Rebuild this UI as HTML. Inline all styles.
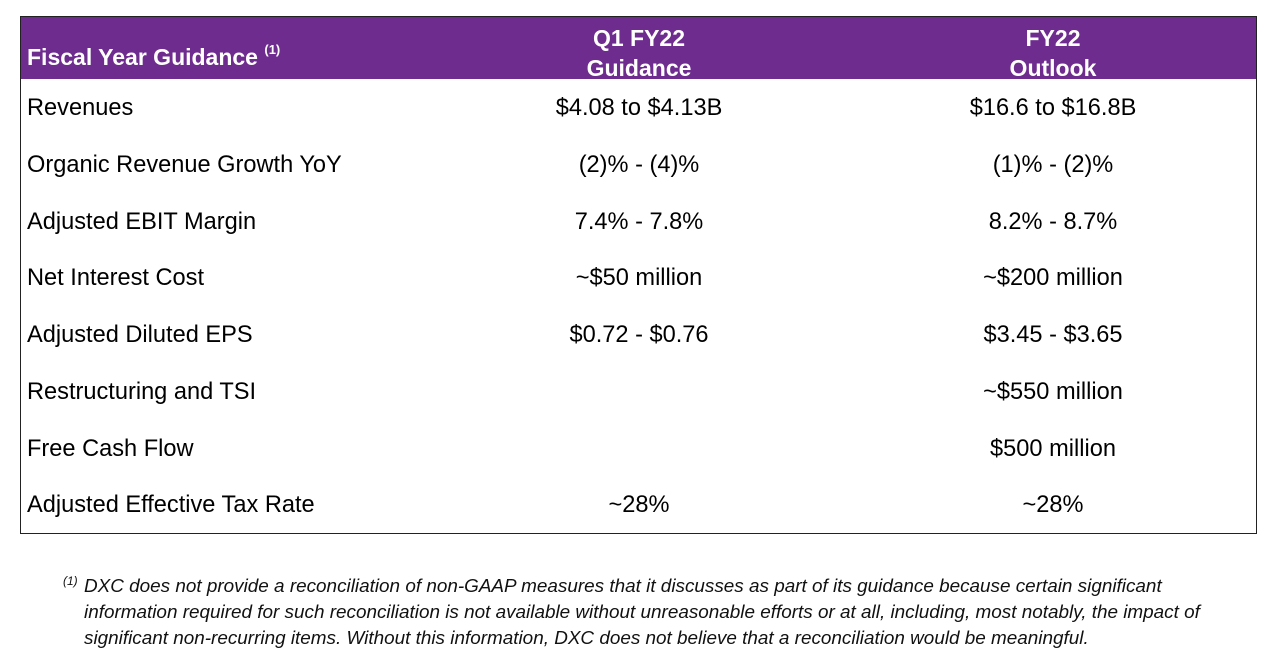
<!DOCTYPE html>
<html><head><meta charset="utf-8"><style>
body{margin:0;width:1280px;height:671px;background:#fff;font-family:"Liberation Sans",Arial,sans-serif;position:relative;overflow:hidden}
.box{position:absolute;left:20px;top:16px;width:1237px;height:518px;border:1.5px solid #222;box-sizing:border-box}
.hdr{position:absolute;left:0;top:0;width:100%;height:62px;background:#6e2c8e;color:#fff;font-weight:bold;font-size:23px}
.t{position:absolute;white-space:nowrap}
.c{transform:translateX(-50%);text-align:center}
.r{font-size:23.6px;color:#000}
.fn{position:absolute;left:84px;font-style:italic;font-size:18.9px;color:#111;white-space:nowrap}
</style></head><body>
<div class="box">
<div class="hdr">
<div class="t" style="left:6px;top:27px">Fiscal Year Guidance <sup style="font-size:13px;position:relative;top:-2px">(1)</sup></div>
<div class="t c" style="left:618px;top:6px;line-height:30px">Q1 FY22<br>Guidance</div>
<div class="t c" style="left:1032px;top:6px;line-height:30px">FY22<br>Outlook</div>
</div>
</div>
<div class="t r" style="left:27px;top:95px">Revenues</div>
<div class="t r" style="left:27px;top:152px">Organic Revenue Growth YoY</div>
<div class="t r" style="left:27px;top:209px">Adjusted EBIT Margin</div>
<div class="t r" style="left:27px;top:265px">Net Interest Cost</div>
<div class="t r" style="left:27px;top:322px">Adjusted Diluted EPS</div>
<div class="t r" style="left:27px;top:379px">Restructuring and TSI</div>
<div class="t r" style="left:27px;top:436px">Free Cash Flow</div>
<div class="t r" style="left:27px;top:492px">Adjusted Effective Tax Rate</div>
<div class="t r c" style="left:639px;top:95px">$4.08 to $4.13B</div>
<div class="t r c" style="left:639px;top:152px">(2)% - (4)%</div>
<div class="t r c" style="left:639px;top:209px">7.4% - 7.8%</div>
<div class="t r c" style="left:639px;top:265px">~$50 million</div>
<div class="t r c" style="left:639px;top:322px">$0.72 - $0.76</div>
<div class="t r c" style="left:639px;top:492px">~28%</div>
<div class="t r c" style="left:1053px;top:95px">$16.6 to $16.8B</div>
<div class="t r c" style="left:1053px;top:152px">(1)% - (2)%</div>
<div class="t r c" style="left:1053px;top:209px">8.2% - 8.7%</div>
<div class="t r c" style="left:1053px;top:265px">~$200 million</div>
<div class="t r c" style="left:1053px;top:322px">$3.45 - $3.65</div>
<div class="t r c" style="left:1053px;top:379px">~$550 million</div>
<div class="t r c" style="left:1053px;top:436px">$500 million</div>
<div class="t r c" style="left:1053px;top:492px">~28%</div>
<div class="fn" style="left:63px;top:574px;font-size:12px">(1)</div>
<div class="fn" style="top:576px">DXC does not provide a reconciliation of non-GAAP measures that it discusses as part of its guidance because certain significant</div>
<div class="fn" style="top:602px">information required for such reconciliation is not available without unreasonable efforts or at all, including, most notably, the impact of</div>
<div class="fn" style="top:628px">significant non-recurring items. Without this information, DXC does not believe that a reconciliation would be meaningful.</div>
</body></html>
